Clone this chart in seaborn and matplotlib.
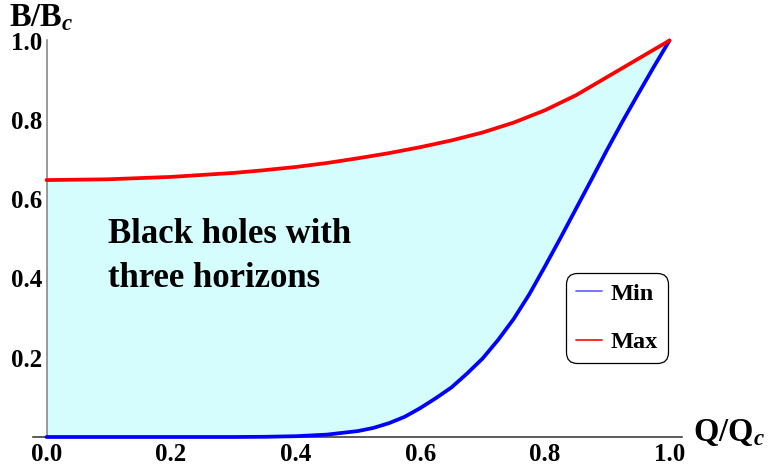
import matplotlib
matplotlib.use("Agg")
import matplotlib.pyplot as plt
import seaborn as sns
import pandas as pd
import numpy as np
from matplotlib.ticker import FixedLocator
from matplotlib.lines import Line2D

# ---- data ----
q_min = [0.0, 0.1, 0.2, 0.3, 0.35, 0.4, 0.45, 0.5, 0.525, 0.55, 0.575, 0.6, 0.625, 0.65,
         0.675, 0.7, 0.725, 0.75, 0.775, 0.8, 0.825, 0.85, 0.875, 0.9, 0.925, 0.95, 0.975, 1.0]
b_min = [0.0, 0.0, 0.0, 0.0, 0.0005, 0.002, 0.006, 0.015, 0.023, 0.035, 0.051, 0.073, 0.098, 0.125,
         0.160, 0.198, 0.245, 0.298, 0.36, 0.43, 0.502, 0.576, 0.65, 0.725, 0.797, 0.866, 0.934, 1.0]
q_max = [0.0, 0.05, 0.1, 0.15, 0.2, 0.25, 0.3, 0.35, 0.4, 0.45, 0.5, 0.55, 0.6, 0.65,
         0.7, 0.75, 0.8, 0.85, 0.9, 0.95, 1.0]
b_max = [0.648, 0.649, 0.650, 0.653, 0.656, 0.661, 0.666, 0.673, 0.681, 0.691, 0.703, 0.716,
         0.731, 0.748, 0.768, 0.793, 0.824, 0.862, 0.908, 0.954, 1.0]
labels = ["Min", "Max"]
region_text = ["Black holes with", "three horizons"]

sns.set_style("white")
plt.rcParams["font.family"] = ["Liberation Serif", "DejaVu Serif"]
plt.rcParams["font.weight"] = "bold"
plt.rcParams["text.color"] = "black"
plt.rcParams["xtick.labelcolor"] = "black"
plt.rcParams["ytick.labelcolor"] = "black"
plt.rcParams["mathtext.fontset"] = "custom"
plt.rcParams["mathtext.bf"] = "Liberation Serif:bold"
plt.rcParams["mathtext.it"] = "Liberation Serif:italic:bold"
plt.rcParams["mathtext.rm"] = "Liberation Serif:bold"

fig = plt.figure(figsize=(7.68, 4.69), dpi=100)
W, H = 768, 469
x0px, x1px = 46.5, 669.5  # data 0 and 1
xmin, xmax = -0.0215, 1.02
y0px, y1px = 437, 40.5
ppu = x1px - x0px
left = (x0px + xmin * ppu) / W
right = (x0px + xmax * ppu) / W
ax = fig.add_axes([left, (H - y0px) / H, right - left, (y0px - y1px) / H])
ax.set_facecolor("none")

df_min = pd.DataFrame({"q": q_min, "b": b_min})
df_max = pd.DataFrame({"q": q_max, "b": b_max})

qq = sorted(set(q_min) | set(q_max))
lo = np.interp(qq, q_min, b_min)
hi = np.interp(qq, q_max, b_max)
ax.fill_between(qq, lo, hi, color="#d6fdfd", lw=0, zorder=1)

sns.lineplot(data=df_min, x="q", y="b", color="#0000ff", lw=2.7, ax=ax, zorder=3, clip_on=False)
sns.lineplot(data=df_max, x="q", y="b", color="#ff0000", lw=2.7, ax=ax, zorder=3, clip_on=False)

ax.set_xlim(xmin, xmax)
ax.set_ylim(0, 1.0)
ax.set_xlabel("")
ax.set_ylabel("")

for s in ["top", "right"]:
    ax.spines[s].set_visible(False)
ax.spines["left"].set_position(("data", 0))
ax.spines["bottom"].set_position(("data", 0))
ax.spines["left"].set_color("#808080")
ax.spines["bottom"].set_color("#303030")
for s in ["left", "bottom"]:
    ax.spines[s].set_linewidth(1.1)
    ax.spines[s].set_zorder(2)

ax.xaxis.set_major_locator(FixedLocator([0, 0.2, 0.4, 0.6, 0.8, 1.0]))
ax.xaxis.set_minor_locator(FixedLocator([v / 20 for v in range(0, 21)]))
ax.yaxis.set_major_locator(FixedLocator([0.2, 0.4, 0.6, 0.8, 1.0]))
ax.yaxis.set_minor_locator(FixedLocator([v / 20 for v in range(1, 21)]))
ax.set_xticklabels(["0.0", "0.2", "0.4", "0.6", "0.8", "1.0"])
ax.set_yticklabels(["0.2", "0.4", "0.6", "0.8", "1.0"])
ax.tick_params(axis="both", which="major", direction="in", length=5.5, width=1.0,
               color="#606060", labelsize=18, pad=3)
ax.tick_params(axis="both", which="minor", direction="in", length=3.5, width=0.8,
               color="#606060")
ax.tick_params(axis="x", which="major", pad=4)
for t in ax.get_xticklabels() + ax.get_yticklabels():
    t.set_fontweight("bold")

# axis labels
fig.text(9 / W, 1 - 2 / H, r"$\mathbf{B/B}_{c}$", fontsize=23.5, ha="left", va="top")
fig.text(693 / W, 1 - 433 / H, r"$\mathbf{Q/Q}_{c}$", fontsize=23.5, ha="left", va="center")

# region label
ax.text(0.099, 0.489, region_text[0], fontsize=25, fontweight="bold", ha="left", va="baseline", zorder=5)
ax.text(0.099, 0.378, region_text[1], fontsize=25, fontweight="bold", ha="left", va="baseline", zorder=5)

# legend
handles = [Line2D([], [], color="#6a6aff", lw=1.3), Line2D([], [], color="#ff1a1a", lw=1.3)]
leg = fig.legend(handles, labels, loc="upper left",
                 bbox_to_anchor=(566 / W, 1 - 273 / H), frameon=True, fancybox=True,
                 prop={"family": "Liberation Serif", "weight": "bold", "size": 17.5},
                 handlelength=1.1, handletextpad=0.35, borderpad=0.4, labelspacing=1.1,
                 borderaxespad=0)
leg.get_frame().set_edgecolor("black")
leg.get_frame().set_linewidth(0.9)
leg.get_frame().set_alpha(1)
leg.get_frame().set_boxstyle("round", pad=0.0, rounding_size=0.45)

fig.savefig("out.png", dpi=100)
